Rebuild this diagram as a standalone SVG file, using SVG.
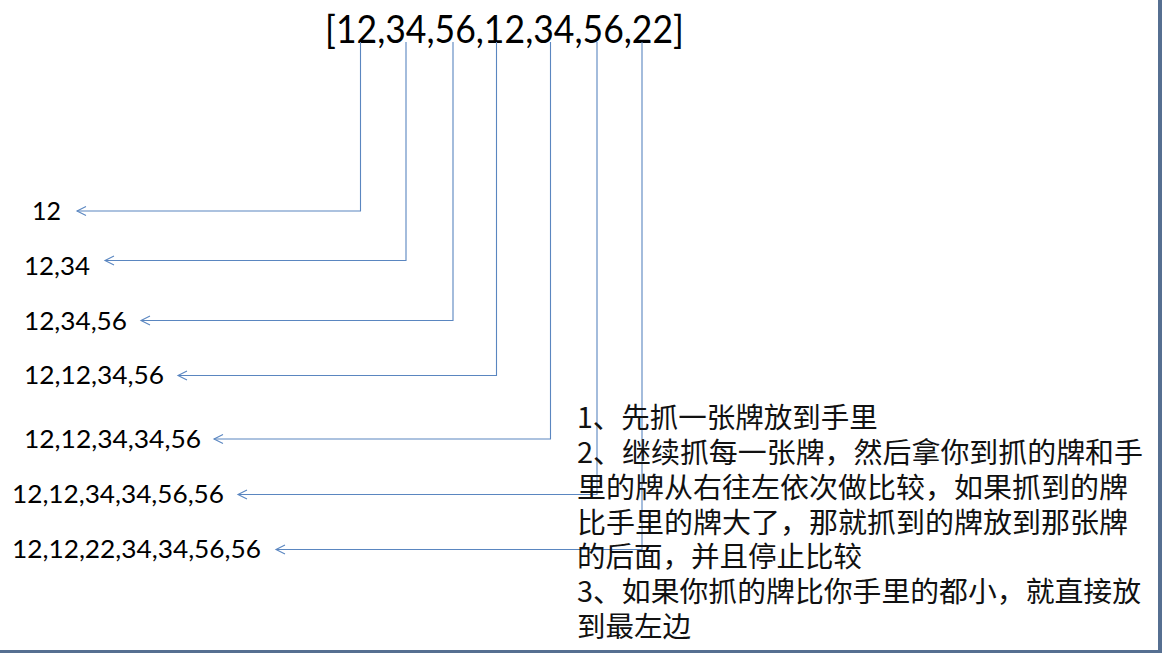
<svg xmlns="http://www.w3.org/2000/svg" width="1162" height="653" viewBox="0 0 1162 653">
<style>
.num{font-family:Lato,"Open Sans","Liberation Sans",sans-serif;fill:#000}
.top{font-size:39px}
.lbl{font-size:25px}
.cn{font-family:"Noto Sans CJK SC","Liberation Sans",sans-serif;font-size:28.5px;fill:#111}
.conn{fill:none;stroke:#5a86c0;stroke-width:1.1;marker-end:url(#chev)}
</style>
<defs>
<marker id="chev" markerUnits="userSpaceOnUse" viewBox="-11 -6 13 12" refX="0" refY="0" markerWidth="13" markerHeight="12" orient="auto" overflow="visible">
<path d="M-9,-4.5 L0,0 L-9,4.5" fill="none" stroke="#5a86c0" stroke-width="1.1"/>
</marker>
</defs>
<rect x="0" y="0" width="1162" height="653" fill="#fff"/>
<rect x="1158" y="0" width="4" height="653" fill="#566f91"/>
<rect x="0" y="650" width="1162" height="3" fill="#566f91"/>
<g id="array">
<text class="num top" x="325" y="43" textLength="359" lengthAdjust="spacingAndGlyphs">[12,34,56,12,34,56,22]</text>
</g>
<g id="connectors">
<path class="conn" d="M360.5,42 V211 H77"/>
<path class="conn" d="M406,42 V260.5 H105"/>
<path class="conn" d="M453,42 V320.5 H141"/>
<path class="conn" d="M496.5,42 V375.5 H178"/>
<path class="conn" d="M550.5,42 V439 H214"/>
<path class="conn" d="M597,42 V494.5 H238"/>
<path class="conn" d="M642,42 V549.5 H276"/>
</g>
<g id="step1"><text class="num lbl" x="32" y="220" textLength="29" lengthAdjust="spacingAndGlyphs">12</text></g>
<g id="step2"><text class="num lbl" x="24" y="275" textLength="66" lengthAdjust="spacingAndGlyphs">12,34</text></g>
<g id="step3"><text class="num lbl" x="24" y="330" textLength="103" lengthAdjust="spacingAndGlyphs">12,34,56</text></g>
<g id="step4"><text class="num lbl" x="24" y="384" textLength="140" lengthAdjust="spacingAndGlyphs">12,12,34,56</text></g>
<g id="step5"><text class="num lbl" x="24" y="448" textLength="177" lengthAdjust="spacingAndGlyphs">12,12,34,34,56</text></g>
<g id="step6"><text class="num lbl" x="12" y="503" textLength="212" lengthAdjust="spacingAndGlyphs">12,12,34,34,56,56</text></g>
<g id="step7"><text class="num lbl" x="12" y="558" textLength="249" lengthAdjust="spacingAndGlyphs">12,12,22,34,34,56,56</text></g>
<g id="description">
<text class="cn" x="577" y="428">1、先抓一张牌放到手里</text>
<text class="cn" x="577" y="463" textLength="566" lengthAdjust="spacingAndGlyphs">2、继续抓每一张牌，然后拿你到抓的牌和手</text>
<text class="cn" x="577" y="498" textLength="551" lengthAdjust="spacingAndGlyphs">里的牌从右往左依次做比较，如果抓到的牌</text>
<text class="cn" x="577" y="533" textLength="551" lengthAdjust="spacingAndGlyphs">比手里的牌大了，那就抓到的牌放到那张牌</text>
<text class="cn" x="577" y="567">的后面，并且停止比较</text>
<text class="cn" x="577" y="602" textLength="564" lengthAdjust="spacingAndGlyphs">3、如果你抓的牌比你手里的都小，就直接放</text>
<text class="cn" x="577" y="637">到最左边</text>
</g>
</svg>
